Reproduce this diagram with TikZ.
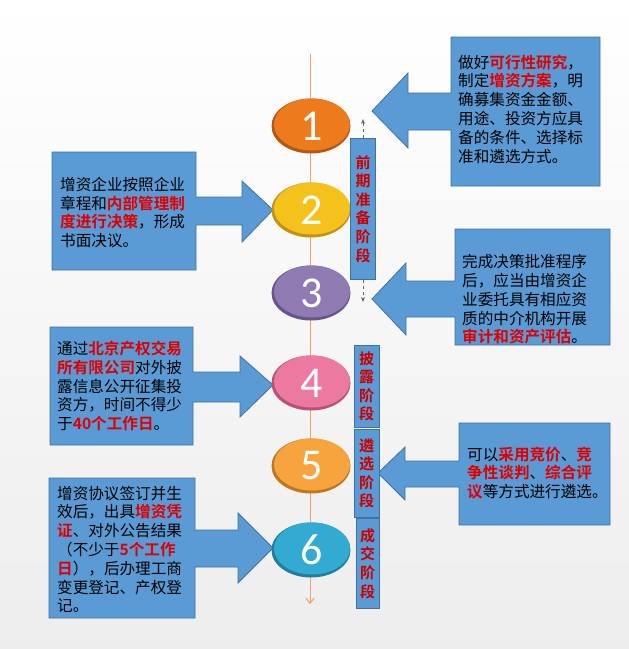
\documentclass[tikz,border=0pt]{standalone}
\usepackage{fontspec}
\newfontfamily\cjk{Noto Sans CJK SC}
\newfontfamily\cjkb{Noto Sans CJK SC Bold}
\newfontfamily\digitfont{Carlito}
\usetikzlibrary{arrows.meta}
\definecolor{boxblue}{HTML}{5B9BD5}
\definecolor{boxedge}{HTML}{41719C}
\definecolor{hl}{HTML}{E00000}
\definecolor{stagered}{HTML}{CC0000}
\definecolor{axis}{HTML}{F2A060}
\definecolor{cA}{HTML}{EE7A1E}\definecolor{dA}{HTML}{B25812}
\definecolor{cB}{HTML}{F5C21B}\definecolor{dB}{HTML}{C29212}
\definecolor{cC}{HTML}{8F7BB2}\definecolor{dC}{HTML}{66548A}
\definecolor{cD}{HTML}{EC7AA0}\definecolor{dD}{HTML}{B8507A}
\definecolor{cE}{HTML}{F7A43E}\definecolor{dE}{HTML}{C07820}
\definecolor{cF}{HTML}{33AAD2}\definecolor{dF}{HTML}{1E7FA0}
\newcommand{\hlt}[1]{{\cjkb\color{hl}#1}}
\begin{document}
\begin{tikzpicture}[x=1pt,y=-1pt,
  callout/.style={fill=boxblue,draw=boxedge,line width=0.8pt},
  txt/.style={anchor=west,align=left,inner sep=0pt,
    font=\cjk\fontsize{15.6}{18.8}\selectfont},
  stagebox/.style={fill=boxblue,draw=boxedge,line width=0.8pt,
    minimum width=25pt,inner sep=0pt,anchor=north,
    font=\cjkb\fontsize{15}{18.6}\selectfont,text=stagered,align=center},
  digit/.style={text=white,font=\digitfont\fontsize{44}{44}\selectfont,inner sep=0pt}]
\useasboundingbox (0,0) rectangle (629,649);
\shade[top color=white,bottom color=black!7] (0,0) rectangle (629,649);

% axis
\coordinate (axtop) at (310,54);
\coordinate (axbot) at (310,604);
\draw[axis,line width=1pt,-{Straight Barb[length=5pt,width=8pt]}] (axtop) -- (axbot);

% right callouts (pointing left)
\draw[callout] (451,37) -- (600,37) -- (600,186) -- (451,186) -- (451,130) -- (408,130)
  -- (408,148) -- (372,111) -- (408,73) -- (408,93) -- (451,93) -- cycle;
\draw[callout] (455,229) -- (610,229) -- (610,345) -- (455,345) -- (455,317) -- (406,317)
  -- (406,335) -- (372,299) -- (406,263) -- (406,281) -- (455,281) -- cycle;
\draw[callout] (459,423) -- (610,423) -- (610,525) -- (459,525) -- (459,487) -- (405,487)
  -- (405,500) -- (378,473) -- (405,447) -- (405,461) -- (459,461) -- cycle;

% left callouts (pointing right)
\draw[callout] (52,152) -- (196,152) -- (196,197) -- (242,197) -- (242,181) -- (273,210)
  -- (242,242) -- (242,225) -- (196,225) -- (196,270) -- (52,270) -- cycle;
\draw[callout] (50,327) -- (193,327) -- (193,372) -- (240,372) -- (240,356) -- (273,385)
  -- (240,417) -- (240,402) -- (193,402) -- (193,445) -- (50,445) -- cycle;
\draw[callout] (49,478) -- (195,478) -- (195,530) -- (238,530) -- (238,513) -- (273,548)
  -- (238,583) -- (238,567) -- (195,567) -- (195,618) -- (49,618) -- cycle;

% callout texts
\node[txt] (t1) at (458,109) {做好\hlt{可行性研究}，\\制定\hlt{增资方案}，明\\确募集资金金额、\\用途、投资方应具\\备的条件、选择标\\准和遴选方式。};
\node[txt] (t2) at (60,212.5) {增资企业按照企业\\章程和\hlt{内部管理制}\\\hlt{度进行决策}，形成\\书面决议。};
\node[txt] (t3) at (462,299.5) {完成决策批准程序\\后，应当由增资企\\业委托具有相应资\\质的中介机构开展\\\hlt{审计和资产评估}。};
\node[txt] (t4) at (57,386) {通过\hlt{北京产权交易}\\\hlt{所有限公司}对外披\\露信息公开征集投\\资方，时间不得少\\于\hlt{40个工作日}。};
\node[txt] (t5) at (467,473) {可以\hlt{采用竞价}、\hlt{竞}\\\hlt{争性谈判}、\hlt{综合评}\\\hlt{议}等方式进行遴选。};
\node[txt] (t6) at (57,549.5) {增资协议签订并生\\效后，出具\hlt{增资凭}\\\hlt{证}、对外公告结果\\（不少于\hlt{5个工作}\\\hlt{日}），后办理工商\\变更登记、产权登\\记。};

% ellipses
\foreach \n/\y/\c/\d in {1/126/cA/dA,2/210/cB/dB,3/293/cC/dC,4/383/cD/dD,5/466/cE/dE,6/550/cF/dF}{
  \fill[\d] (311,\y) ellipse [x radius=39.5pt,y radius=27.5pt];
  \fill[\c] (312,\y-1.5) ellipse [x radius=38pt,y radius=26pt];
  \node[digit] (n\n) at (311.5,\y) {\n};
}

% stage boxes
\node[stagebox,minimum height=141pt] (s1) at (363,138) {前\\期\\准\\备\\阶\\段};
\node[stagebox,minimum height=82pt] (s2) at (366.5,345) {披\\露\\阶\\段};
\node[stagebox,minimum height=88pt] (s3) at (366.5,429) {遴\\选\\阶\\段};
\node[stagebox,minimum height=90pt,minimum width=23pt] (s4) at (367.5,518) {成\\交\\阶\\段};

\coordinate (up) at (363,119);
\coordinate (dn) at (363,302);
\draw[black!60,dashed,line width=0.7pt,-{Stealth[length=5pt,width=4pt]}] (s1.north) -- (up);
\draw[black!60,dashed,line width=0.7pt,-{Stealth[length=5pt,width=4pt]}] (s1.south) -- (dn);
\end{tikzpicture}
\end{document}
